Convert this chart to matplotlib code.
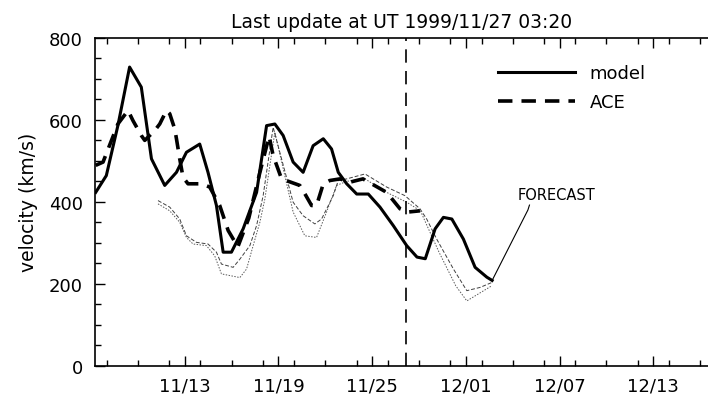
import matplotlib
matplotlib.use('Agg')
import matplotlib.pyplot as plt
from matplotlib.ticker import MultipleLocator, FuncFormatter
import numpy as np

# x values are days counted from 1999-11-00 (so 31 = 12/01)
model_day = [7.3, 7.98, 8.72, 9.47, 10.22, 10.87, 11.72, 12.47, 13.11, 13.96, 14.49, 15.03,
             15.46, 15.99, 16.74, 17.60, 18.24, 18.77, 19.30, 19.94, 20.58, 21.22, 21.87,
             22.40, 22.83, 23.37, 24.01, 24.75, 25.50, 26.35, 27.21, 27.87, 28.40, 29.03,
             29.56, 30.10, 30.84, 31.59, 32.34, 32.68]
model_vel = [423, 464, 586, 729, 680, 505, 440, 472, 521, 541, 472, 391,
             277, 277, 334, 423, 586, 590, 562, 497, 472, 537, 554,
             529, 472, 444, 419, 419, 387, 342, 293, 265, 261, 334,
             362, 358, 309, 240, 216, 208]

fc_day = [32.68, 34.97, 35.07]
fc_vel = [208, 380, 392]

ace_day = [7.3, 7.77, 8.72, 9.37, 9.69, 10.22, 10.44, 11.08, 11.40, 11.83, 12.04, 12.36,
           12.47, 12.68, 12.89, 13.21, 14.07, 14.60, 15.24, 15.78, 16.4, 17.1, 17.8, 18.4,
           18.66, 19.20, 20.37, 20.58, 21.12, 21.44, 21.87, 22.29, 22.94, 23.58, 24.41,
           25.93, 26.78, 27.29, 28.06]
ace_vel = [489, 497, 590, 623, 598, 562, 550, 574, 590, 623, 615, 578,
           554, 505, 460, 444, 444, 436, 391, 330, 290, 360, 470, 560,
           513, 456, 440, 427, 391, 391, 444, 452, 456, 448, 456,
           423, 383, 375, 378]

upper_day = [11.29, 12.04, 12.68, 13.11, 13.75, 14.49, 15.03, 15.35, 16.10, 16.53, 17.17,
             17.60, 18.02, 18.66, 19.94, 20.58, 21.33, 21.76, 22.51, 22.83, 23.37, 24.54,
             25.93, 27.10, 28.06, 28.49, 29.13, 30.20, 31.06, 31.91, 32.66]
upper_vel = [403, 387, 358, 317, 301, 297, 277, 248, 240, 260, 293,
             342, 415, 582, 399, 366, 346, 358, 415, 452, 456, 468,
             436, 415, 383, 358, 309, 236, 183, 191, 203]

lower_day = [11.29, 12.04, 12.68, 13.11, 13.53, 14.39, 14.92, 15.35, 15.88, 16.53, 16.96,
             17.38, 17.81, 18.13, 18.77, 19.94, 20.69, 21.44, 22.08, 22.72, 23.37, 24.54,
             25.93, 27.21, 28.09, 28.51, 29.28, 30.35, 31.06, 32.66]
lower_vel = [395, 378, 350, 313, 297, 293, 268, 224, 220, 215, 236,
             293, 350, 407, 570, 375, 317, 313, 375, 440, 450, 456,
             423, 399, 378, 342, 277, 195, 158, 195]

update_day = 27 + 3 / 24 + 20 / 1440   # 11/27 03:20


def date_label(d, pos):
    d = int(round(d))
    if d > 30:
        return '12/%02d' % (d - 30)
    return '11/%02d' % d


plt.rcParams['font.family'] = 'DejaVu Sans'
fig = plt.figure(figsize=(7.08, 4.02), dpi=100)
ax = fig.add_axes([0.1345, 0.088, 0.8655, 0.815])

ax.plot(lower_day, lower_vel, color='0.35', lw=0.7, linestyle=(0, (1.5, 1.5)))
ax.plot(upper_day, upper_vel, color='0.25', lw=0.7, linestyle=(0, (4, 2)))
ax.plot(ace_day, ace_vel, color='black', lw=2.6, linestyle=(0, (4, 2.5)), label='ACE')
ax.plot(model_day, model_vel, color='black', lw=2.2, label='model')
ax.plot(fc_day, fc_vel, color='black', lw=0.8)
ax.axvline(update_day, color='black', lw=1.2, linestyle=(0, (8, 5)))

ax.text(34.3, 417, 'FORECAST', fontsize=10.5, va='center', ha='left')

ax.set_xlim(7.27, 46.5)
ax.set_ylim(0, 800)
ax.xaxis.set_minor_locator(MultipleLocator(2))
ax.xaxis.set_major_formatter(FuncFormatter(date_label))
ax.set_xticks([13, 19, 25, 31, 37, 43])
ax.yaxis.set_major_locator(MultipleLocator(200))
ax.yaxis.set_minor_locator(MultipleLocator(50))

ax.tick_params(which='both', direction='in', top=True, right=False, labelsize=13, width=1)
ax.tick_params(which='major', length=7)
ax.tick_params(which='minor', length=4)
ax.tick_params(axis='x', pad=8)
ax.tick_params(axis='y', pad=9)
ax.spines['right'].set_visible(False)
for s in ['left', 'bottom', 'top']:
    ax.spines[s].set_linewidth(1.2)

ax.set_ylabel('velocity (km/s)', fontsize=13.5, labelpad=8)
ax.set_title('Last update at UT 1999/11/27 03:20', fontsize=13.5, pad=8)

h, l = ax.get_legend_handles_labels()
ax.legend(h[::-1], l[::-1], loc='upper right', bbox_to_anchor=(0.925, 0.97), frameon=False,
          fontsize=13, handlelength=4.3, labelspacing=0.6, handletextpad=0.8)

fig.savefig('out.png', dpi=100)
